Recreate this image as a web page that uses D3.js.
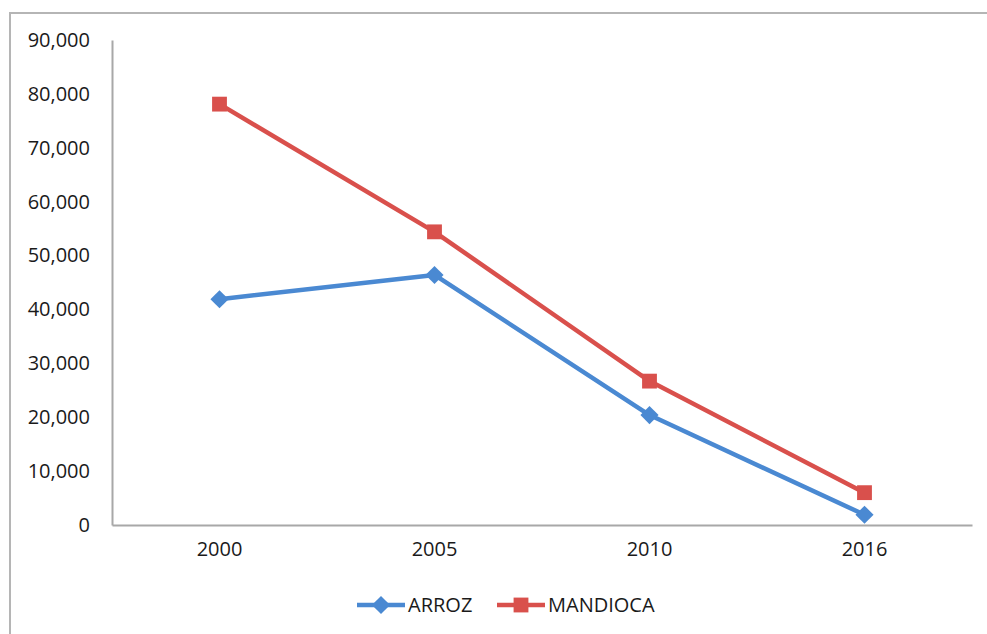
<!DOCTYPE html>
<html>
<head>
<meta charset="utf-8">
<script src="https://cdn.jsdelivr.net/npm/d3@7"></script>
<style>
  html, body { margin: 0; padding: 0; background: #fff; }
  svg { display: block; }
  text { font-family: "Open Sans", "Noto Sans", sans-serif; fill: #1a1a1a; }
</style>
</head>
<body>
<svg id="chart" width="987" height="634"></svg>
<script>
// Production series by year
const years = ["2000", "2005", "2010", "2016"];
const arroz = [41900, 46400, 20400, 1900];
const mandioca = [78100, 54400, 26700, 6000];
const yTicks = [0, 10000, 20000, 30000, 40000, 50000, 60000, 70000, 80000, 90000];
const seriesNames = ["ARROZ", "MANDIOCA"];
const seriesColors = ["#4A89D2", "#D9504C"];

(function () {
  const svg = d3.select("#chart");

  // outer frame
  svg.append("rect")
    .attr("x", 10).attr("y", 13)
    .attr("width", 1000).attr("height", 700)
    .attr("fill", "none")
    .attr("stroke", "#b5b5b5")
    .attr("stroke-width", 2);

  const plotLeft = 112, plotRight = 972, plotTop = 40, plotBottom = 525;

  const x = d3.scaleBand().domain(years).range([plotLeft, plotRight]);
  const y = d3.scaleLinear().domain([0, 90000]).range([plotBottom, plotTop]);

  const fmt = d3.format(",");

  // y axis
  const yAxis = svg.append("g")
    .attr("transform", `translate(${plotLeft},0)`)
    .call(d3.axisLeft(y).tickValues(yTicks).tickFormat(fmt).tickSize(0).tickPadding(22));
  yAxis.select(".domain").attr("stroke", "#a8a8a8").attr("stroke-width", 2);
  yAxis.selectAll("text").style("font-size", "20px").attr("fill", "#1a1a1a");

  // x axis
  const xAxis = svg.append("g")
    .attr("transform", `translate(0,${plotBottom})`)
    .call(d3.axisBottom(x).tickSize(0).tickPadding(17));
  xAxis.select(".domain").attr("stroke", "#a8a8a8").attr("stroke-width", 2);
  xAxis.selectAll("text").style("font-size", "20px").attr("fill", "#1a1a1a");

  const cx = d => x(d) + x.bandwidth() / 2;
  const line = d3.line().x(d => cx(d.year)).y(d => y(d.value));

  const series = [arroz, mandioca].map((vals, i) => ({
    name: seriesNames[i],
    color: seriesColors[i],
    points: years.map((yr, j) => ({ year: yr, value: vals[j] }))
  }));

  const diamond = d3.symbol().type(d3.symbolDiamond2).size(210);
  const square = d3.symbol().type(d3.symbolSquare2).size(280);
  const symbols = [diamond, square];

  series.forEach((s, i) => {
    svg.append("path")
      .datum(s.points)
      .attr("fill", "none")
      .attr("stroke", s.color)
      .attr("stroke-width", 4.5)
      .attr("stroke-linejoin", "round")
      .attr("d", line);
    svg.selectAll(null)
      .data(s.points)
      .join("path")
      .attr("transform", d => `translate(${cx(d.year)},${y(d.value)})`)
      .attr("d", symbols[i])
      .attr("fill", s.color);
  });

  // legend
  const legendX = [357, 497];
  series.forEach((s, i) => {
    const g = svg.append("g").attr("transform", `translate(${legendX[i]},605)`);
    g.append("line").attr("x1", 0).attr("x2", 48).attr("y1", 0).attr("y2", 0)
      .attr("stroke", s.color).attr("stroke-width", 4.5);
    g.append("path").attr("transform", "translate(24,0)").attr("d", symbols[i]).attr("fill", s.color);
    g.append("text").attr("x", 51).attr("y", 0).attr("dy", "0.35em")
      .style("font-size", "20px").text(s.name);
  });
})();
</script>
</body>
</html>
